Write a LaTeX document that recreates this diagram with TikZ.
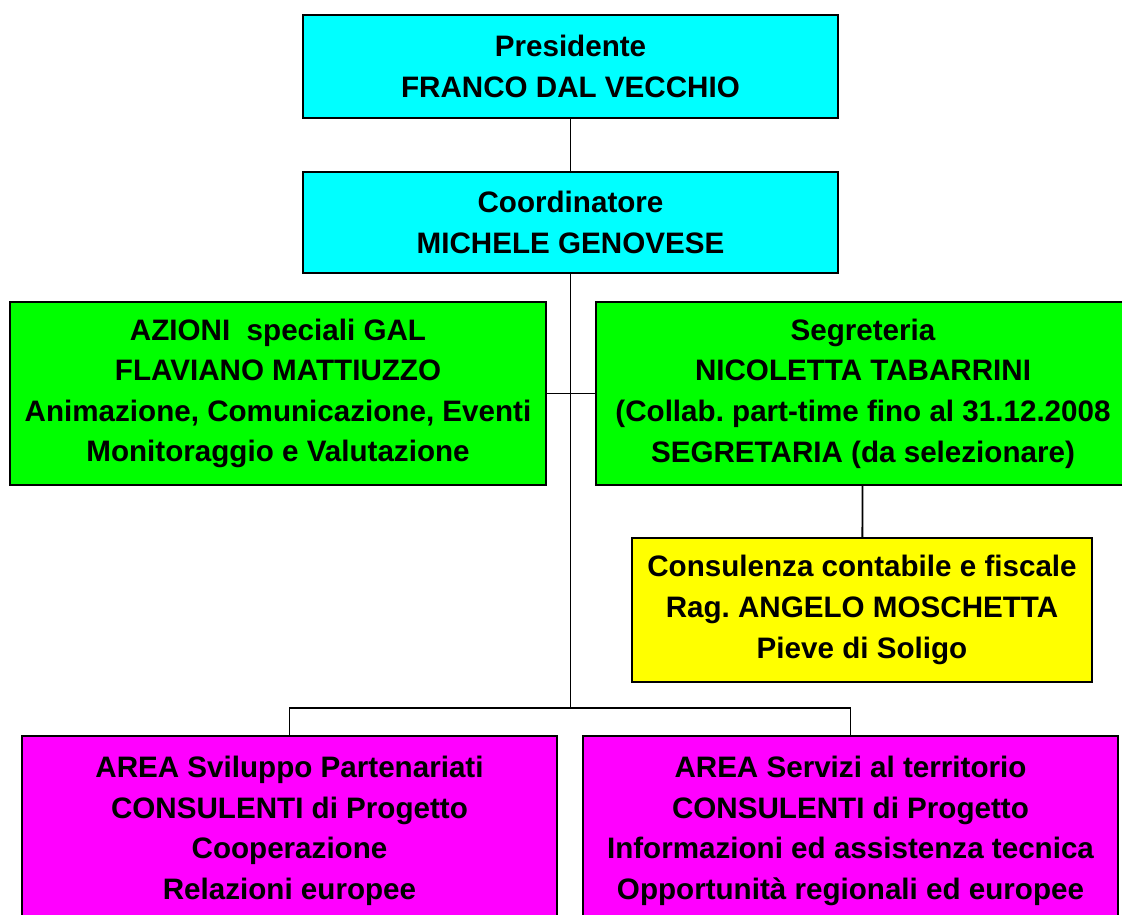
\documentclass[tikz,border=0pt]{standalone}
\usepackage{fontspec}
\setmainfont{Liberation Sans}
\usetikzlibrary{positioning}
\definecolor{boxcyan}{RGB}{0,255,255}
\definecolor{boxgreen}{RGB}{0,255,0}
\definecolor{boxyellow}{RGB}{255,255,0}
\definecolor{boxmagenta}{RGB}{255,0,255}

\begin{document}
\begin{tikzpicture}[x=0.5pt,y=-0.5pt,
    box/.style={draw, line width=1pt, minimum width=267.5pt, align=center,
                font=\fontsize{14.8}{20.3}\selectfont\bfseries\frenchspacing, inner sep=0pt},
    link/.style={draw, line width=0.9pt}]
    \useasboundingbox (0,0) rectangle (1122,914);
    \clip (0,0) rectangle (1122,914);

    \node[box, fill=boxcyan, minimum height=51.5pt] (presidente) at (570.5,66.5) {Presidente\\FRANCO DAL VECCHIO};
    \node[box, fill=boxcyan, minimum height=50.5pt] (coordinatore) at (570.5,222.5) {Coordinatore\\MICHELE GENOVESE};
    \node[box, fill=boxgreen, minimum width=268pt, minimum height=91.5pt] (azioni) at (278,393.5) {AZIONI~ speciali GAL\\FLAVIANO MATTIUZZO\\Animazione, Comunicazione, Eventi\\Monitoraggio e Valutazione};
    \node[box, fill=boxgreen, minimum height=91.5pt] (segreteria) at (863,393.5) {Segreteria\\NICOLETTA TABARRINI\\(Collab. part-time fino al 31.12.2008\\SEGRETARIA (da selezionare)};
    \node[box, fill=boxyellow, minimum width=230pt, minimum height=72pt] (consulenza) at (862,610) {Consulenza contabile e fiscale\\Rag. ANGELO MOSCHETTA\\Pieve di Soligo};
    \node[box, fill=boxmagenta, minimum height=95pt] (partenariati) at (289.5,831) {AREA Sviluppo Partenariati\\CONSULENTI di Progetto\\Cooperazione\\Relazioni europee};
    \node[box, fill=boxmagenta, minimum height=95pt] (servizi) at (850.5,831) {AREA Servizi al territorio\\CONSULENTI di Progetto\\Informazioni ed assistenza tecnica\\Opportunità regionali ed europee};

    \coordinate (bivio) at (570.5,708);

    \draw[link] (presidente) -- (coordinatore);
    \draw[link] (coordinatore) -- (bivio);
    \draw[link] (azioni.east) -- (segreteria.west);
    \draw[link] (segreteria) -- (consulenza);
    \draw[link] (partenariati.north) |- (bivio) -| (servizi.north);
\end{tikzpicture}
\end{document}
